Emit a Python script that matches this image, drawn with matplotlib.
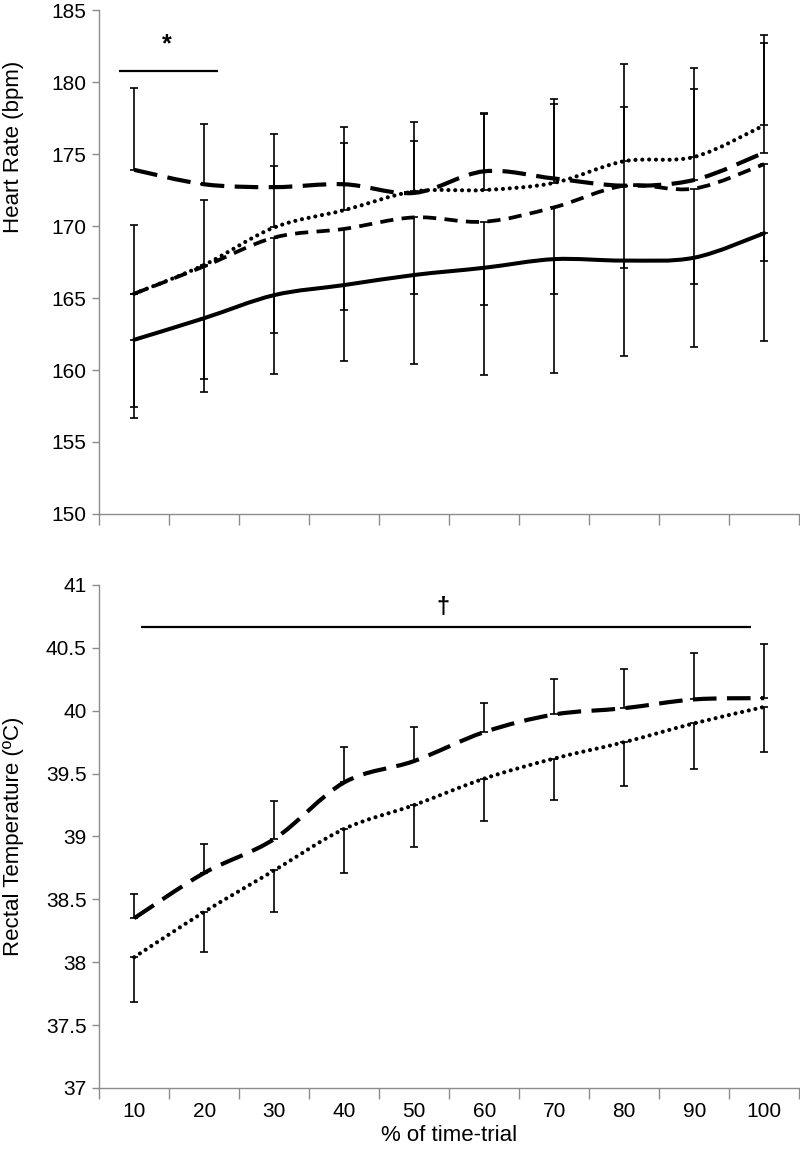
import numpy as np
import matplotlib
matplotlib.use("Agg")
import matplotlib.pyplot as plt
from matplotlib.path import Path
from matplotlib.patches import PathPatch
from matplotlib.ticker import FixedLocator, FuncFormatter

plt.rcParams["font.family"] = ["Liberation Sans", "DejaVu Sans"]
plt.rcParams["lines.scale_dashes"] = False

# ── data ────────────────────────────────────────────────────────────────────
pct = [10, 20, 30, 40, 50, 60, 70, 80, 90, 100]

# heart rate (bpm)
hr_solid = [162.1, 163.6, 165.2, 165.9, 166.6, 167.1, 167.7, 167.6, 167.8, 169.5]
hr_short = [165.3, 167.2, 169.2, 169.8, 170.6, 170.3, 171.3, 172.8, 172.6, 174.3]
hr_dotted = [165.3, 167.3, 169.9, 171.1, 172.4, 172.5, 173.0, 174.5, 174.8, 177.0]
hr_long = [173.9, 172.9, 172.7, 172.9, 172.3, 173.8, 173.3, 172.8, 173.2, 175.1]
# error bar ends (one-sided)
hr_long_up = [179.6, 177.1, 176.4, 176.9, 177.2, 177.85, 178.8, 181.25, 180.95, 183.3]
hr_dotted_up = [170.1, 171.8, 174.2, 175.8, 175.9, 177.8, 178.5, 178.3, 179.5, 182.7]
hr_short_lo = [157.4, 159.4, 162.6, 164.2, 165.3, 164.5, 165.3, 167.1, 166.0, 167.6]
hr_solid_lo = [156.7, 158.5, 159.7, 160.6, 160.4, 159.65, 159.8, 161.0, 161.6, 162.0]

# rectal temperature (ºC)
rt_long = [38.35, 38.71, 38.98, 39.43, 39.60, 39.83, 39.97, 40.02, 40.09, 40.10]
rt_long_up = [38.54, 38.94, 39.28, 39.71, 39.87, 40.06, 40.25, 40.33, 40.46, 40.53]
rt_dotted = [38.04, 38.40, 38.73, 39.06, 39.25, 39.46, 39.62, 39.75, 39.90, 40.03]
rt_dotted_lo = [37.68, 38.08, 38.40, 38.71, 38.92, 39.12, 39.29, 39.40, 39.54, 39.67]

# ── line styles ──────────────────────────────────────────────────────────────
SOLID = dict(linestyle="-", lw=2.9, capstyle="round")
SHORT = dict(linestyle=(0, (9.5, 6)), lw=2.7, capstyle="butt")
DOTTED = dict(linestyle=(0, (0.01, 4.9)), lw=3.0, capstyle="round")
LONG = dict(linestyle=(0, (17, 7.5)), lw=3.0, capstyle="butt")
GREY = "#8c8c8c"


def smooth_path(xs, ys):
    """Excel-like smoothed line: cubic Bezier through every data point."""
    pts = np.column_stack([xs, ys]).astype(float)
    verts, codes = [pts[0]], [Path.MOVETO]
    n = len(pts)
    for i in range(n - 1):
        p0 = pts[i - 1] if i > 0 else pts[i]
        p1, p2 = pts[i], pts[i + 1]
        p3 = pts[i + 2] if i + 2 < n else pts[i + 1]
        verts += [p1 + (p2 - p0) / 6, p2 - (p3 - p1) / 6, p2]
        codes += [Path.CURVE4] * 3
    return Path(verts, codes)


def draw_line(ax, ys, style):
    patch = PathPatch(smooth_path(np.arange(len(ys)), ys), fill=False,
                      edgecolor="black", linewidth=style["lw"],
                      linestyle=style["linestyle"], zorder=3)
    patch.set_capstyle(style["capstyle"])
    patch.set_joinstyle("round")
    ax.add_patch(patch)


def draw_err(ax, ys, ends):
    ys = np.array(ys)
    ends = np.array(ends)
    lo = np.clip(ys - ends, 0, None)
    hi = np.clip(ends - ys, 0, None)
    ax.errorbar(np.arange(len(ys)), ys, yerr=[lo, hi], fmt="none",
                ecolor="black", elinewidth=1.2, capsize=3.0, capthick=1.2,
                zorder=2)


def style_axes(ax, show_xlabels):
    for side in ("top", "right"):
        ax.spines[side].set_visible(False)
    for side in ("left", "bottom"):
        ax.spines[side].set_color(GREY)
        ax.spines[side].set_linewidth(1.0)
    ax.set_xlim(-0.5, len(pct) - 0.5)
    ax.xaxis.set_major_locator(FixedLocator(np.arange(len(pct))))
    ax.xaxis.set_minor_locator(FixedLocator(np.arange(len(pct) + 1) - 0.5))
    ax.tick_params(axis="x", which="major", length=0, pad=10, labelsize=15)
    ax.tick_params(axis="x", which="minor", length=8, width=1.0, color=GREY,
                   direction="out")
    ax.tick_params(axis="y", length=5, width=1.0, color=GREY, direction="out",
                   labelsize=15, pad=4)
    if show_xlabels:
        ax.set_xticklabels([str(p) for p in pct])
    else:
        ax.set_xticklabels([])


fig = plt.figure(figsize=(8, 11.54), dpi=100)
ax1 = fig.add_axes([0.124, 0.5546, 0.875, 0.4367])
ax2 = fig.add_axes([0.124, 0.0572, 0.875, 0.4359])

# ── top: heart rate ─────────────────────────────────────────────────────────
draw_err(ax1, hr_long, hr_long_up)
draw_err(ax1, hr_dotted, hr_dotted_up)
draw_err(ax1, hr_short, hr_short_lo)
draw_err(ax1, hr_solid, hr_solid_lo)
draw_line(ax1, hr_solid, SOLID)
draw_line(ax1, hr_short, SHORT)
draw_line(ax1, hr_dotted, DOTTED)
draw_line(ax1, hr_long, LONG)
ax1.set_ylim(150, 185)
ax1.set_yticks(np.arange(150, 186, 5))
style_axes(ax1, show_xlabels=False)
ax1.set_ylabel("Heart Rate (bpm)", fontsize=16)
ax1.yaxis.set_label_coords(-0.108, 0.728)
ax1.plot([-0.21, 1.2], [180.76, 180.76], color="black", lw=1.6,
         solid_capstyle="butt", clip_on=False)
ax1.text(0.47, 181.8, "*", ha="center", va="bottom", fontsize=18,
         fontweight="bold")

# ── bottom: rectal temperature ──────────────────────────────────────────────
draw_err(ax2, rt_long, rt_long_up)
draw_err(ax2, rt_dotted, rt_dotted_lo)
draw_line(ax2, rt_dotted, DOTTED)
draw_line(ax2, rt_long, LONG)
ax2.set_ylim(37, 41)
ax2.set_yticks(np.arange(37, 41.01, 0.5))
ax2.yaxis.set_major_formatter(FuncFormatter(lambda v, _: f"{v:g}"))
style_axes(ax2, show_xlabels=True)
ax2.set_ylabel("Rectal Temperature (ºC)", fontsize=16)
ax2.yaxis.set_label_coords(-0.108, 0.5)
ax2.set_xlabel("% of time-trial", fontsize=16, labelpad=3)
ax2.plot([0.09, 8.81], [40.667, 40.667], color="black", lw=1.6,
         solid_capstyle="butt")
ax2.text(4.41, 40.73, "†", ha="center", va="bottom", fontsize=17,
         fontweight="bold")

fig.savefig("out.png", dpi=100)
